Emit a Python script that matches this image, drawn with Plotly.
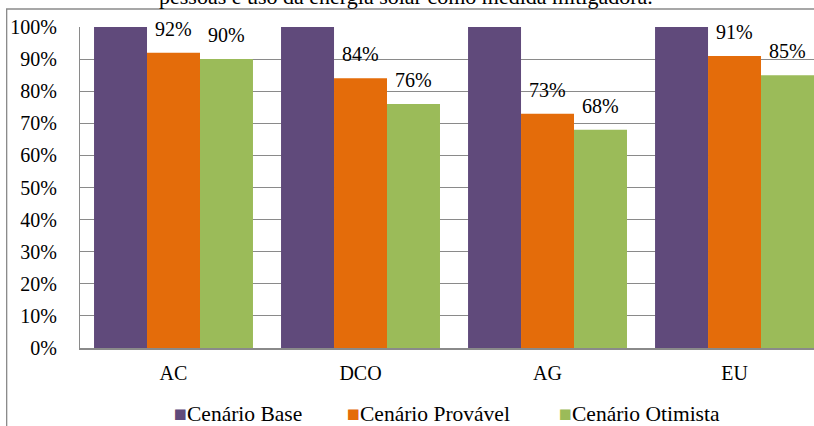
import plotly.graph_objects as go

# Categories and scenario values (share of the base scenario)
categories = ["AC", "DCO", "AG", "EU"]
series_names = ["Cenário Base", "Cenário Provável", "Cenário Otimista"]
base = [1.00, 1.00, 1.00, 1.00]
provavel = [0.92, 0.84, 0.73, 0.91]
otimista = [0.90, 0.76, 0.68, 0.85]
y_ticks = [0, 0.1, 0.2, 0.3, 0.4, 0.5, 0.6, 0.7, 0.8, 0.9, 1.0]
title_text = "pessoas e uso da energia solar como medida mitigadora."

colors = ["#604A7B", "#E46C0A", "#9BBB59"]
FONT = "Liberation Serif, Times New Roman, serif"
FS = 20
BARGAP = 0.15
GRID = "#8A8A8A"

fig = go.Figure()
for name, vals, col in zip(series_names, [base, provavel, otimista], colors):
    fig.add_trace(go.Bar(x=categories, y=vals, name=name, marker_color=col,
                         marker_line_width=0, showlegend=False))

# value labels above the probable / optimistic bars
bar_w = (1 - BARGAP) / 3
annotations = []
for offset, vals in [(0.0, provavel), (bar_w, otimista)]:
    for i, v in enumerate(vals):
        annotations.append(dict(x=i + offset, y=v, xref="x", yref="y",
                                text=f"{round(v * 100)}%", showarrow=False,
                                yanchor="bottom", yshift=11,
                                font=dict(family=FONT, size=FS, color="black")))

# chart title (top of the frame)
annotations.append(dict(x=0.4435, y=1.05, xref="paper", yref="paper",
                        text=title_text, showarrow=False, xanchor="center",
                        yanchor="bottom",
                        font=dict(family=FONT, size=22, color="black")))

# legend drawn as coloured squares followed by the series names
legend_x = [0.1253, 0.361, 0.650]
for lx, name, col in zip(legend_x, series_names, colors):
    annotations.append(dict(x=lx, y=-0.2056, xref="paper", yref="paper",
                            text=f"<span style='color:{col}'>■</span>{name}",
                            showarrow=False, xanchor="left", yanchor="middle",
                            font=dict(family=FONT, size=21.5, color="black")))

fig.update_layout(
    width=814, height=426,
    margin=dict(l=80, r=0, t=27, b=78),
    paper_bgcolor="white", plot_bgcolor="white",
    barmode="group", bargap=BARGAP, bargroupgap=0,
    font=dict(family=FONT, size=FS, color="black"),
    annotations=annotations,
    shapes=[dict(type="rect", xref="paper", yref="paper",
                 x0=-0.0999, x1=1.05, y0=-0.3, y1=1.056,
                 line=dict(color=GRID, width=1.3), layer="below")],
)
fig.update_xaxes(range=[-0.5, 3.425], showgrid=False, showline=True,
                 linecolor=GRID, linewidth=2, ticks="",
                 ticklabelstandoff=6,
                 tickfont=dict(family=FONT, size=FS, color="black"))
fig.update_yaxes(range=[0, 1], tickvals=y_ticks,
                 ticktext=[f"{round(t * 100)}%" for t in y_ticks],
                 showgrid=True, gridcolor=GRID, gridwidth=1.3,
                 showline=True, linecolor=GRID, linewidth=1.3,
                 zeroline=False, ticks="", ticklabelstandoff=18,
                 tickfont=dict(family=FONT, size=FS, color="black"))

fig.write_html("out.html")
